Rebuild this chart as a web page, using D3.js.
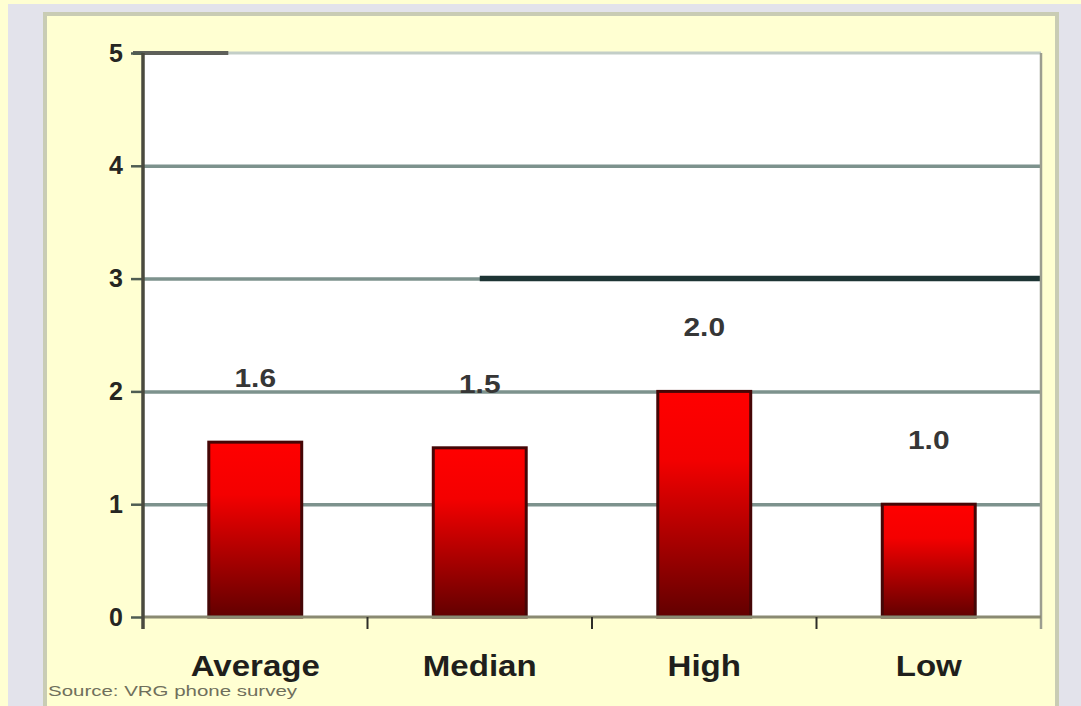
<!DOCTYPE html>
<html>
<head>
<meta charset="utf-8">
<script src="https://cdn.jsdelivr.net/npm/d3@7"></script>
<style>
  html, body { margin: 0; padding: 0; background: #ffffd2; }
  svg { display: block; font-family: "Liberation Sans", Arial, sans-serif; }
</style>
</head>
<body>
<svg id="chart" width="1081" height="706"></svg>
<script>
// Survey results: one bar per statistic
const categories = ["Average", "Median", "High", "Low"];
const values = [1.55, 1.5, 2.0, 1.0];
const yTicks = [0, 1, 2, 3, 4, 5];
// Benchmark line drawn from the middle of one category to the right edge
const benchmarkStart = ["Median"];
const benchmarkValue = [3];
const sourceNote = "Source: VRG phone survey";

const W = 1081, H = 706;
const svg = d3.select("#chart");

// ---- window frame around the slide ----
svg.append("rect").attr("x", 8).attr("y", 4).attr("width", W - 8).attr("height", H - 4)
  .attr("fill", "#e3e3eb");
svg.append("rect").attr("x", 45).attr("y", 15).attr("width", 1012).attr("height", H - 15)
  .attr("fill", "#ffffd2");
svg.append("path")
  .attr("d", `M45,${H} V14 H1057 V${H}`)
  .attr("fill", "none").attr("stroke", "#c9ccb4").attr("stroke-width", 4);

// ---- scales ----
const plotL = 143, plotR = 1041, plotT = 53, plotB = 617;
const x = d3.scaleBand().domain(categories).range([plotL, plotR])
  .paddingInner(0.586).paddingOuter(0.293);
const y = d3.scaleLinear().domain([0, 5]).range([plotB, plotT]);

// plot background
svg.append("rect").attr("x", plotL).attr("y", plotT)
  .attr("width", plotR - plotL).attr("height", plotB - plotT).attr("fill", "#ffffff");

// ---- gridlines ----
const grid = svg.append("g").attr("transform", `translate(${plotL},0)`)
  .call(d3.axisLeft(y).tickValues(yTicks.filter(t => t > 0 && t < 5))
    .tickSize(-(plotR - plotL)).tickFormat(""));
grid.select(".domain").remove();
grid.selectAll(".tick line").attr("stroke", "#7d928d").attr("stroke-width", 3.5);

// top border of the plot
svg.append("line").attr("x1", plotL).attr("x2", plotR).attr("y1", y(5)).attr("y2", y(5))
  .attr("stroke", "#c3cec7").attr("stroke-width", 3);
svg.append("line").attr("x1", plotL - 10).attr("x2", plotL + x.step() * 0.38)
  .attr("y1", y(5)).attr("y2", y(5))
  .attr("stroke", "#5e605a").attr("stroke-width", 4);

// benchmark line
svg.append("line")
  .attr("x1", x(benchmarkStart[0]) + x.bandwidth() / 2).attr("x2", plotR)
  .attr("y1", y(benchmarkValue[0])).attr("y2", y(benchmarkValue[0]))
  .attr("stroke", "#1d3434").attr("stroke-width", 5.5);

// ---- bars ----
const defs = svg.append("defs");
const grad = defs.append("linearGradient").attr("id", "barFill")
  .attr("x1", 0).attr("y1", 0).attr("x2", 0).attr("y2", 1);
grad.append("stop").attr("offset", "0%").attr("stop-color", "#ff0000");
grad.append("stop").attr("offset", "30%").attr("stop-color", "#f40000");
grad.append("stop").attr("offset", "100%").attr("stop-color", "#620000");

svg.append("g").selectAll("rect").data(categories).join("rect")
  .attr("x", d => x(d))
  .attr("y", (d, i) => y(values[i]))
  .attr("width", x.bandwidth())
  .attr("height", (d, i) => y(0) - y(values[i]))
  .attr("fill", "url(#barFill)")
  .attr("stroke", "#450606").attr("stroke-width", 3);

// ---- axes ----
// right border
svg.append("line").attr("x1", plotR).attr("x2", plotR).attr("y1", plotT).attr("y2", plotB + 12)
  .attr("stroke", "#9c9e90").attr("stroke-width", 2.5);
// bottom axis line
svg.append("line").attr("x1", plotL).attr("x2", plotR).attr("y1", plotB).attr("y2", plotB)
  .attr("stroke", "#8a8a72").attr("stroke-width", 3);
// ticks between categories
const boundaries = categories.map(c => x(c) + x.bandwidth() + x.step() * x.paddingInner() / 2)
  .slice(0, categories.length - 1);
svg.append("g").selectAll("line").data(boundaries).join("line")
  .attr("x1", d => d).attr("x2", d => d).attr("y1", plotB).attr("y2", plotB + 12)
  .attr("stroke", "#2e2e28").attr("stroke-width", 2);

// left value axis
const yAxis = svg.append("g").attr("transform", `translate(${plotL},0)`)
  .call(d3.axisLeft(y).tickValues(yTicks).tickSize(12).tickPadding(8).tickFormat(d3.format("d")));
yAxis.select(".domain").remove();
yAxis.selectAll(".tick line").attr("stroke", "#4f5d52").attr("stroke-width", 2.5);
yAxis.selectAll(".tick text")
  .attr("fill", "#262622").attr("font-size", 25).attr("font-weight", "bold")
  .attr("font-family", "Liberation Sans, Arial, sans-serif");
svg.append("line").attr("x1", plotL).attr("x2", plotL).attr("y1", plotT).attr("y2", plotB + 12)
  .attr("stroke", "#4a4a3e").attr("stroke-width", 3.5);

// ---- value labels ----
const fmt = d3.format(".1f");
svg.append("g").selectAll("g").data(categories).join("g")
  .attr("transform", (d, i) => `translate(${x(d) + x.bandwidth() / 2},${y(values[i] + 0.57)})`)
  .append("text")
  .attr("transform", "scale(1.15,1)")
  .attr("text-anchor", "middle").attr("dy", "0.36em")
  .attr("font-size", 26).attr("font-weight", "bold").attr("fill", "#363636")
  .text((d, i) => fmt(values[i]));

// ---- category labels ----
svg.append("g").selectAll("g").data(categories).join("g")
  .attr("transform", d => `translate(${x(d) + x.bandwidth() / 2},676)`)
  .append("text")
  .attr("transform", "scale(1.14,1)")
  .attr("text-anchor", "middle")
  .attr("font-size", 29).attr("font-weight", "bold").attr("fill", "#1f1f1c")
  .text(d => d);

// ---- source note ----
svg.append("text")
  .attr("x", 48).attr("y", 696)
  .attr("font-size", 15).attr("fill", "#6f6f5c")
  .attr("textLength", 249).attr("lengthAdjust", "spacingAndGlyphs")
  .text(sourceNote);
</script>
</body>
</html>
